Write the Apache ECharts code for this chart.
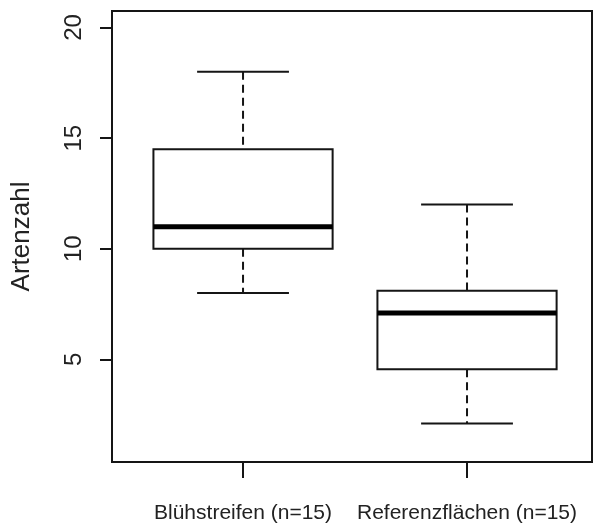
<!DOCTYPE html>
<html>
<head>
<meta charset="utf-8">
<script src="https://cdn.jsdelivr.net/npm/echarts@6/dist/echarts.min.js"></script>
<style>
  html, body { margin: 0; padding: 0; background: #fff; }
  #chart { width: 593px; height: 528px; }
</style>
</head>
<body>
<div id="chart"></div>
<script>
// box plot values
const categories = ["Blühstreifen (n=15)", "Referenzflächen (n=15)"];
const positions = [1, 2];
const whiskerLow = [8, 2.1];
const q1 = [10, 4.55];
const median = [11, 7.1];
const q3 = [14.5, 8.1];
const whiskerHigh = [18, 12];
const yTicks = [5, 10, 15, 20];

const ink = "#151515";
const boxHalf = 0.4;
const capHalf = 0.205;

let boxData = positions.map((p, i) => [p, whiskerLow[i], q1[i], median[i], q3[i], whiskerHigh[i]]);

function renderBox(params, api) {
    let x = api.value(0);
    let lo = api.value(1), b1 = api.value(2), md = api.value(3), b3 = api.value(4), hi = api.value(5);
    let tl = api.coord([x - boxHalf, b3]);
    let br = api.coord([x + boxHalf, b1]);
    let mL = api.coord([x - boxHalf, md]);
    let mR = api.coord([x + boxHalf, md]);
    let cTop = api.coord([x, hi]);
    let cQ3 = api.coord([x, b3]);
    let cQ1 = api.coord([x, b1]);
    let cLow = api.coord([x, lo]);
    let capL = api.coord([x - capHalf, hi])[0];
    let capR = api.coord([x + capHalf, hi])[0];
    let solid = { stroke: ink, lineWidth: 2, fill: null };
    let dashed = { stroke: ink, lineWidth: 2, lineDash: [8, 5] };
    return {
        type: "group",
        children: [
            { type: "line", shape: { x1: cTop[0], y1: cTop[1], x2: cQ3[0], y2: cQ3[1] }, style: dashed },
            { type: "line", shape: { x1: cQ1[0], y1: cQ1[1], x2: cLow[0], y2: cLow[1] }, style: dashed },
            { type: "line", shape: { x1: capL, y1: cTop[1], x2: capR, y2: cTop[1] }, style: solid },
            { type: "line", shape: { x1: capL, y1: cLow[1], x2: capR, y2: cLow[1] }, style: solid },
            { type: "rect", shape: { x: tl[0], y: tl[1], width: br[0] - tl[0], height: br[1] - tl[1] },
              style: { stroke: ink, lineWidth: 2, fill: "#fff" } },
            { type: "line", shape: { x1: mL[0], y1: mL[1], x2: mR[0], y2: mR[1] },
              style: { stroke: "#000", lineWidth: 5 } }
        ]
    };
}

let chart = echarts.init(document.getElementById("chart"));
chart.setOption({
    backgroundColor: "#fff",
    animation: false,
    grid: {
        left: 112, top: 11, right: 1, bottom: 66,
        containLabel: false,
        outerBoundsMode: "none",
        show: true, borderColor: ink, borderWidth: 2
    },
    xAxis: {
        type: "value",
        min: 0.415,
        max: 2.558,
        splitLine: { show: false },
        axisLine: { show: true, lineStyle: { color: ink, width: 2 } },
        axisTick: { show: true, customValues: positions, length: 16, lineStyle: { color: ink, width: 2 } },
        axisLabel: {
            customValues: positions,
            formatter: v => categories[Math.round(v) - 1],
            showMinLabel: true,
            showMaxLabel: true,
            hideOverlap: false,
            margin: 41,
            color: "#222",
            fontSize: 21,
            fontFamily: "'Liberation Sans', Arial, sans-serif"
        }
    },
    yAxis: {
        type: "value",
        min: 0.362,
        max: 20.747,
        name: "Artenzahl",
        nameLocation: "middle",
        nameGap: 77,
        nameRotate: 90,
        nameTextStyle: { color: "#222", fontSize: 26, fontFamily: "'Liberation Sans', Arial, sans-serif" },
        splitLine: { show: false },
        axisLine: { show: true, lineStyle: { color: ink, width: 2 } },
        axisTick: { show: true, customValues: yTicks, length: 12, lineStyle: { color: ink, width: 2 } },
        axisLabel: {
            customValues: yTicks,
            showMinLabel: true,
            showMaxLabel: true,
            rotate: 90,
            margin: 26,
            color: "#222",
            fontSize: 24,
            fontFamily: "'Liberation Sans', Arial, sans-serif"
        }
    },
    series: [{
        type: "custom",
        renderItem: renderBox,
        encode: { x: 0, y: [1, 2, 3, 4, 5] },
        data: boxData,
        clip: false
    }]
});
</script>
</body>
</html>
